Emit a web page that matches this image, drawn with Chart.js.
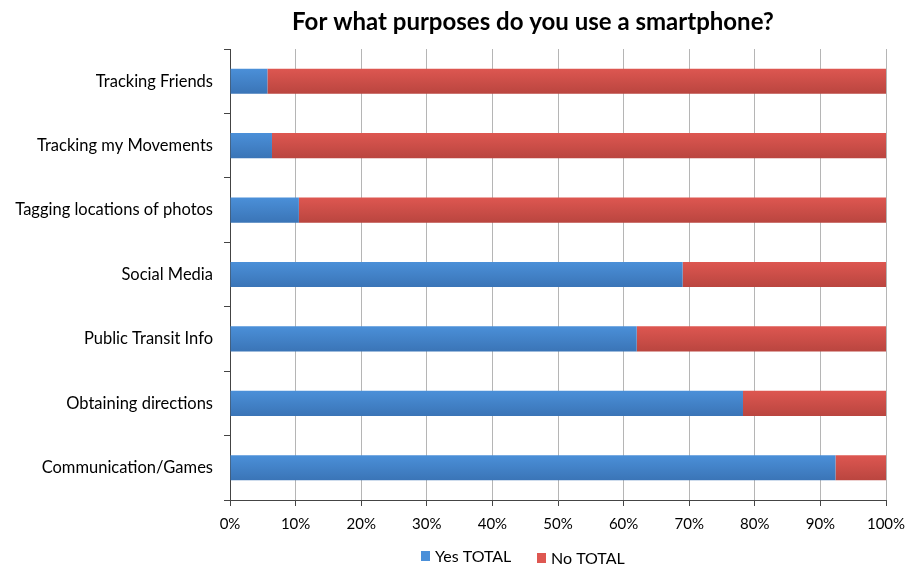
<!DOCTYPE html>
<html lang="en">
<head>
    <meta charset="UTF-8">
    <title>Smartphone purposes</title>
    <style>
        html, body { margin: 0; padding: 0; background: #fff; }
        #wrap { width: 916px; height: 568px; position: relative; }
    </style>
</head>
<body>
    <div id="wrap">
        <canvas id="chart" width="916" height="568"></canvas>
    </div>
    <script src="https://cdn.jsdelivr.net/npm/chart.js"></script>
    <script>
        var chartTitle = 'For what purposes do you use a smartphone?';
        var categorias = [
            'Tracking Friends',
            'Tracking my Movements',
            'Tagging locations of photos',
            'Social Media',
            'Public Transit Info',
            'Obtaining directions',
            'Communication/Games'
        ];
        var yesTotal = [5.7, 6.4, 10.5, 69.0, 62.0, 78.2, 92.3];
        var noTotal = [94.3, 93.6, 89.5, 31.0, 38.0, 21.8, 7.7];
        var xTicks = [0, 10, 20, 30, 40, 50, 60, 70, 80, 90, 100];

        var azul = ['#4b90d9', '#3a74b6'];
        var rojo = ['#de5751', '#b9453f'];

        Chart.defaults.font.family = 'Lato, "Open Sans", sans-serif';
        Chart.defaults.color = '#000';

        // vertical shading of each bar, like the original
        function sombreado(colores) {
            return function(c) {
                var chart = c.chart;
                var y = chart.scales && chart.scales.y;
                if (!y || c.dataIndex === undefined || !chart.chartArea) return colores[1];
                var centro = y.getPixelForValue(c.dataIndex);
                var g = chart.ctx.createLinearGradient(0, centro - 13, 0, centro + 13);
                g.addColorStop(0, colores[0]);
                g.addColorStop(1, colores[1]);
                return g;
            };
        }

        // title and legend drawn by hand so they sit where the original has them
        var extras = {
            id: 'extras',
            afterDraw: function(chart) {
                var ctx = chart.ctx;
                ctx.save();
                ctx.fillStyle = '#000';
                ctx.font = 'bold 24px Lato, sans-serif';
                ctx.textAlign = 'center';
                ctx.textBaseline = 'middle';
                ctx.fillText(chartTitle, 533, 22);

                ctx.font = '16px Lato, sans-serif';
                ctx.textAlign = 'left';
                var x = 421;
                var colores = [azul[0], rojo[0]];
                chart.data.datasets.forEach(function(ds, i) {
                    ctx.fillStyle = colores[i];
                    ctx.fillRect(x, 551 + i * 2, 9, 10);
                    ctx.fillStyle = '#000';
                    ctx.fillText(ds.label, x + 14, 557 + i * 2);
                    x += 116;
                });
                ctx.restore();
            }
        };

        var ctx = document.getElementById('chart').getContext('2d');
        var myChart = new Chart(ctx, {
            type: 'bar',
            data: {
                labels: categorias,
                datasets: [{
                    label: 'Yes TOTAL',
                    data: yesTotal,
                    backgroundColor: sombreado(azul),
                    categoryPercentage: 1,
                    barPercentage: 0.39
                }, {
                    label: 'No TOTAL',
                    data: noTotal,
                    backgroundColor: sombreado(rojo),
                    categoryPercentage: 1,
                    barPercentage: 0.39
                }]
            },
            options: {
                indexAxis: 'y',
                responsive: false,
                animation: false,
                layout: { padding: { top: 49, right: 30, bottom: 0, left: 0 } },
                plugins: {
                    legend: { display: false },
                    title: { display: false },
                    tooltip: { enabled: false }
                },
                scales: {
                    x: {
                        stacked: true,
                        min: 0,
                        max: 100,
                        afterFit: function(s) { s.height = 68; },
                        afterBuildTicks: function(s) {
                            s.ticks = xTicks.map(function(v) { return { value: v }; });
                        },
                        border: { color: '#444', width: 1 },
                        grid: { color: '#b5b5b5', tickColor: '#444', tickLength: 6, lineWidth: 1 },
                        ticks: {
                            padding: 9,
                            font: { size: 15 },
                            callback: function(v) { return v + '%'; }
                        }
                    },
                    y: {
                        stacked: true,
                        afterFit: function(s) { s.width = 230; },
                        border: { color: '#444', width: 1 },
                        grid: { offset: true, drawOnChartArea: false, tickColor: '#444', tickLength: 6 },
                        ticks: { padding: 11, font: { size: 16.5 } }
                    }
                }
            },
            plugins: [extras]
        });
    </script>
</body>
</html>
